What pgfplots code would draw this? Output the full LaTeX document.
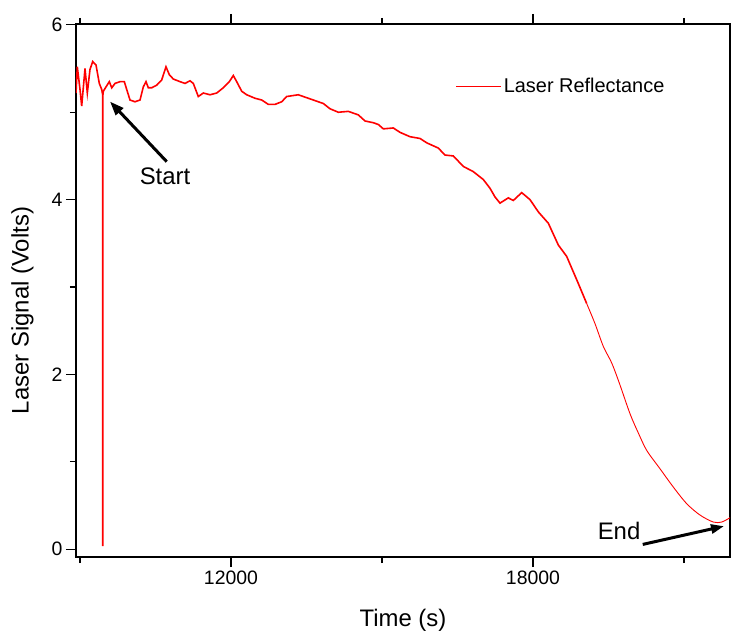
\documentclass[border=0pt]{standalone}
\usepackage{pgfplots}
\pgfplotsset{compat=1.18}
\usepackage{fontspec}
\setmainfont{Liberation Sans}
\usetikzlibrary{arrows.meta}
\begin{document}
\begin{tikzpicture}
\begin{axis}[
  scale only axis, width=654bp, height=533bp,
  xmin=8920, xmax=21915, ymin=-0.09, ymax=6.01,
  xtick={12000,18000}, minor xtick={9000,15000,21000},
  ytick={0,2,4,6}, minor ytick={1,3,5},
  scaled x ticks=false,
  xticklabel style={/pgf/number format/1000 sep={}},
  /pgf/number format/assume math mode=true,
  tick align=outside, ytick pos=left,
  major tick length=10bp, minor tick length=6bp,
  tick style={black, line width=1.2bp},
  axis line style={line width=1.2bp},
  tick label style={font=\fontsize{19.5}{20}\selectfont},
  xlabel={Time (s)}, ylabel={Laser Signal (Volts)},
  label style={font=\fontsize{24}{26}\selectfont},
  xlabel style={at={(axis description cs:0.5,-0.1308)}, anchor=base},
  ylabel style={at={(axis description cs:-0.0818,0.4625)}, anchor=center},
  legend style={draw=none, fill=none, at={(axis description cs:0.5806,0.8836)}, anchor=west,
    font=\fontsize{20}{21}\selectfont, inner sep=0pt,
    /tikz/every even column/.append style={column sep=4bp}},
  legend cell align=left,
  legend image code/.code={\draw[#1] (0bp,0bp) -- (45bp,0bp);},
]
\addplot[red, line width=1.6bp, forget plot] coordinates {
(8920,5.22) (8946,5.52) (9000,5.26) (9033,5.07) (9099,5.50) (9145,5.22) (9198,5.49) (9252,5.58) (9318,5.54) (9383,5.33) (9431,5.26) (9450,5.20) (9452,0.035) (9455,5.20) (9463,5.24) (9516,5.29) (9582,5.35) (9630,5.28) (9695,5.33) (9794,5.35) (9880,5.35) (9928,5.26) (9993,5.14) (10092,5.12) (10192,5.14) (10257,5.29) (10311,5.35) (10357,5.28) (10424,5.28) (10524,5.31) (10623,5.37) (10708,5.52) (10774,5.43) (10854,5.38) (10987,5.35) (11086,5.33) (11185,5.36) (11251,5.33) (11350,5.18) (11450,5.22) (11583,5.20) (11716,5.22) (11847,5.28) (11966,5.35) (12046,5.42) (12113,5.35) (12213,5.24) (12312,5.20) (12477,5.16) (12610,5.14) (12741,5.09) (12874,5.09) (13007,5.12) (13107,5.18) (13337,5.20) (13536,5.16) (13834,5.10) (13967,5.04) (14132,5.00) (14331,5.01) (14529,4.97) (14663,4.90) (14828,4.88) (14927,4.86) (15026,4.81) (15225,4.82) (15358,4.77) (15557,4.72) (15755,4.70) (15889,4.65) (16119,4.59) (16252,4.51) (16417,4.50) (16616,4.38) (16815,4.32) (17013,4.23) (17146,4.13) (17246,4.03) (17345,3.96) (17510,4.02) (17609,3.99) (17776,4.08) (17941,4.00) (18106,3.86) (18305,3.73) (18504,3.48) (18670,3.35) (18901,3.04) (19068,2.81)
};
\addplot[red, line width=0.9bp, smooth] coordinates {
(19068,2.81) (19233,2.58) (19398,2.32) (19565,2.13) (19716,1.90) (19928,1.55) (20093,1.33) (20260,1.13) (20524,0.92) (20789,0.71) (21055,0.52) (21319,0.39) (21583,0.31) (21750,0.31) (21915,0.36)
};
\addlegendentry{Laser Reflectance}
\draw[-{Triangle[length=14bp,width=10bp]}, line width=3bp] (axis cs:10722,4.435) -- (axis cs:9596,5.122);
\draw[-{Triangle[length=13bp,width=9bp]}, line width=3bp] (axis cs:20181,0.054) -- (axis cs:21796,0.263);
\node[anchor=base, font=\fontsize{24}{26}\selectfont] at (axis cs:10689,4.176) {Start};
\node[anchor=base, font=\fontsize{24}{26}\selectfont] at (axis cs:19710,0.111) {End};
\end{axis}
\pgfresetboundingbox
\path[use as bounding box] ([shift={(-76bp,-75bp)}]current axis.south west) rectangle ([shift={(655bp,557bp)}]current axis.south west);
\end{tikzpicture}
\end{document}
